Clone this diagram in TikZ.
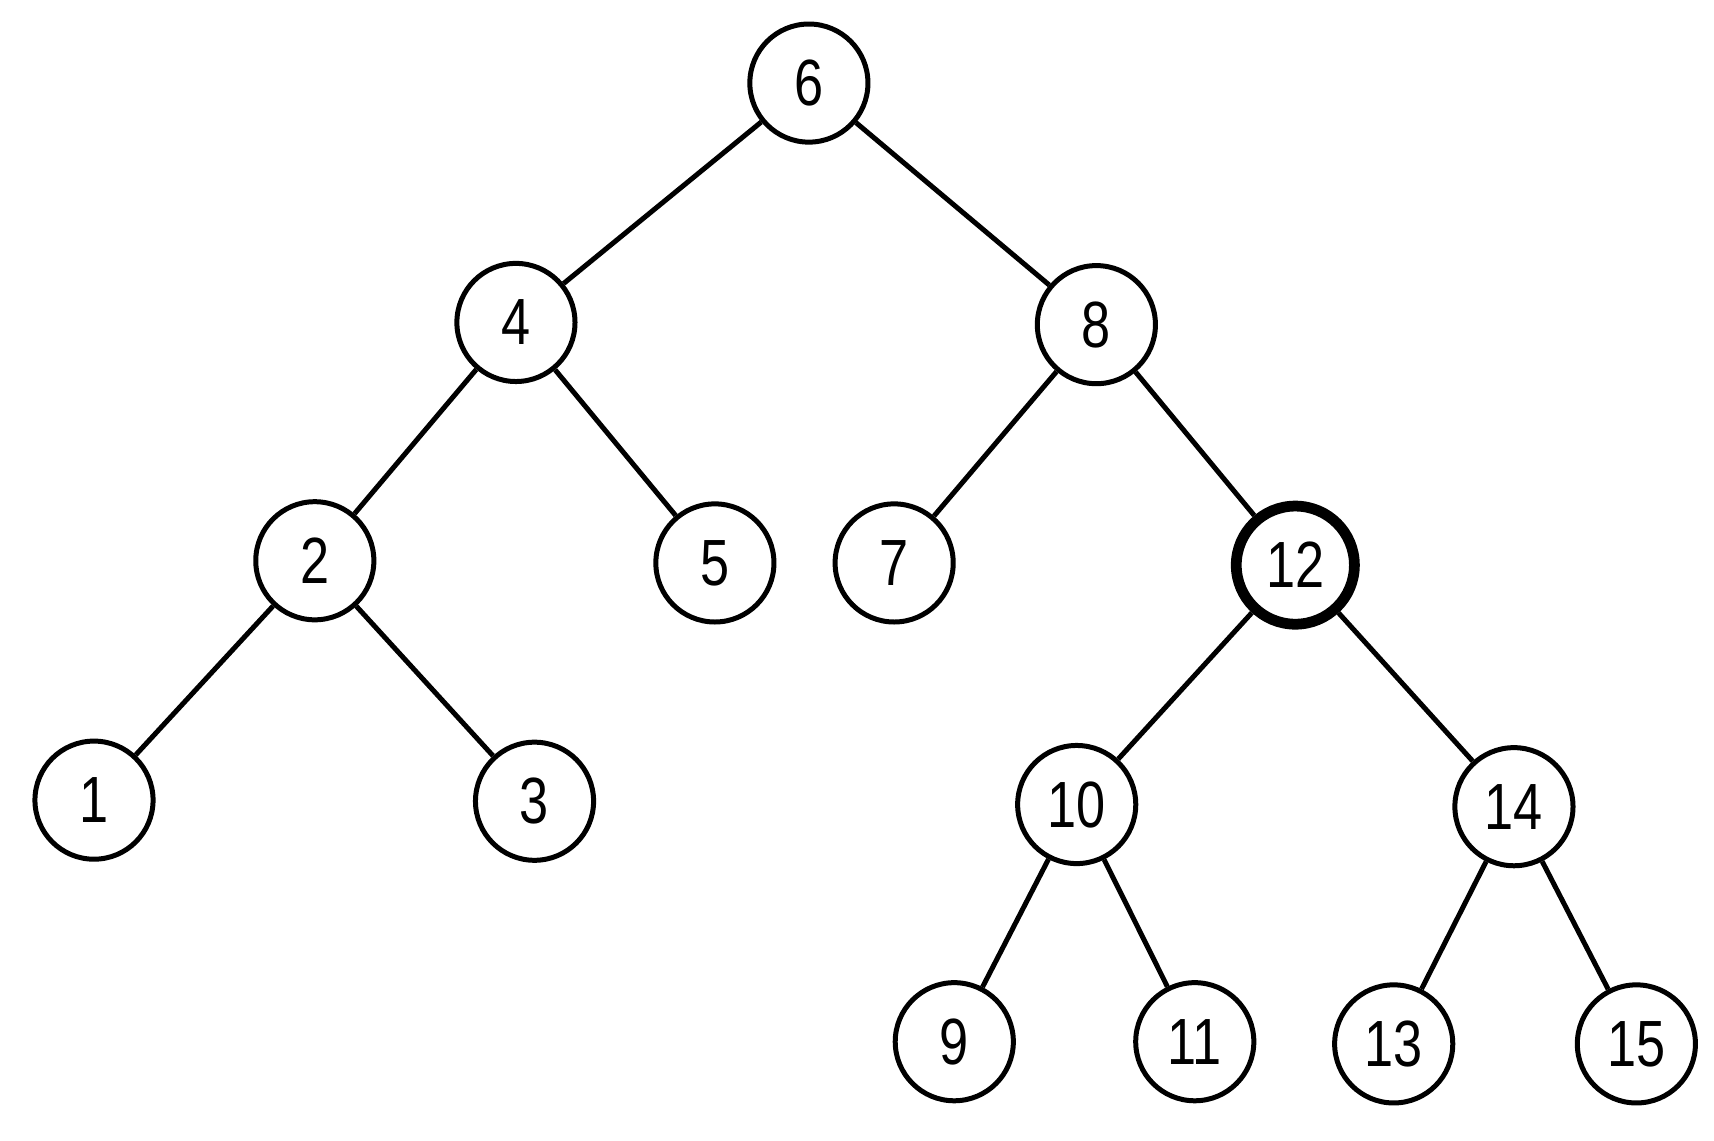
\documentclass[tikz,border=0pt]{standalone}
\usepackage{fontspec}
\setmainfont{Liberation Sans}
\begin{document}
\begin{tikzpicture}[x=0.01cm,y=-0.01cm,
  nd/.style={circle,draw,line width=1.3pt,minimum size=1.08cm,inner sep=0pt,font=\fontsize{17}{17}\selectfont,xscale=1},
  hl/.style={nd,line width=2.8pt},
  edge/.style={line width=1.3pt}]
\useasboundingbox (0,0) rectangle (1568,1043);
\node[nd] (n6) at (740,76) {\scalebox{0.8}[1]{6}};
\node[nd] (n4) at (472,295) {\scalebox{0.8}[1]{4}};
\node[nd] (n8) at (1003,297) {\scalebox{0.8}[1]{8}};
\node[nd] (n2) at (288,513) {\scalebox{0.8}[1]{2}};
\node[nd] (n5) at (654,515) {\scalebox{0.8}[1]{5}};
\node[nd] (n7) at (818,515) {\scalebox{0.8}[1]{7}};
\node[hl] (n12) at (1185,517) {\scalebox{0.8}[1]{12}};
\node[nd] (n1) at (86,732) {\scalebox{0.8}[1]{1}};
\node[nd] (n3) at (489,733) {\scalebox{0.8}[1]{3}};
\node[nd] (n10) at (985,736) {\scalebox{0.8}[1]{10}};
\node[nd] (n14) at (1385,738) {\scalebox{0.8}[1]{14}};
\node[nd] (n9) at (873,953) {\scalebox{0.8}[1]{9}};
\node[nd] (n11) at (1093,953) {\scalebox{0.8}[1]{11}};
\node[nd] (n13) at (1275,955) {\scalebox{0.8}[1]{13}};
\node[nd] (n15) at (1497,955) {\scalebox{0.8}[1]{15}};
\draw[edge] (n6)--(n4); \draw[edge] (n6)--(n8);
\draw[edge] (n4)--(n2); \draw[edge] (n4)--(n5);
\draw[edge] (n8)--(n7); \draw[edge] (n8)--(n12);
\draw[edge] (n2)--(n1); \draw[edge] (n2)--(n3);
\draw[edge] (n12)--(n10); \draw[edge] (n12)--(n14);
\draw[edge] (n10)--(n9); \draw[edge] (n10)--(n11);
\draw[edge] (n14)--(n13); \draw[edge] (n14)--(n15);
\end{tikzpicture}
\end{document}
